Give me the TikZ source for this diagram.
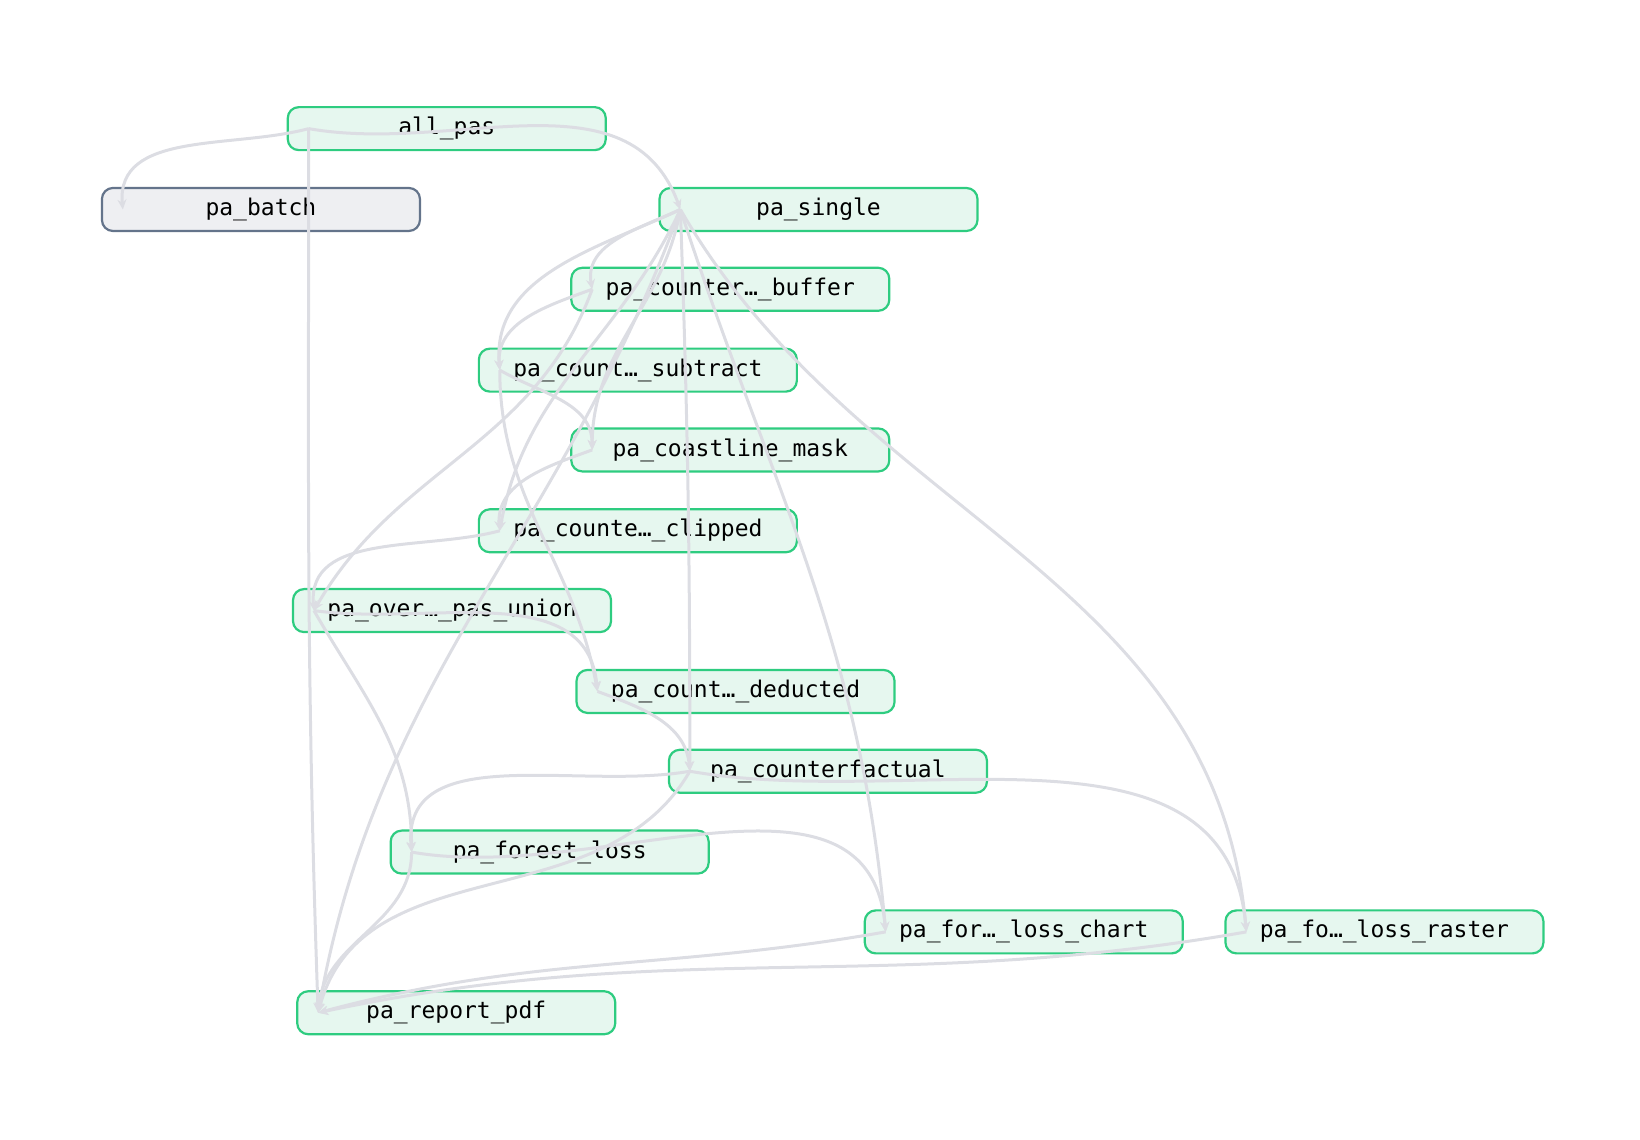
\documentclass[tikz,border=0pt]{standalone}
\usepackage{fontspec}
\setmonofont{DejaVu Sans Mono}
\usetikzlibrary{arrows.meta}
\definecolor{ng}{HTML}{2ECC80}
\definecolor{nf}{HTML}{E6F7EF}
\definecolor{gb}{HTML}{64748B}
\definecolor{gf}{HTML}{EEEFF2}
\definecolor{ec}{HTML}{DCDDE3}
\begin{document}
\begin{tikzpicture}[x=1.05pt,y=-1.05pt,
 n/.style={draw=ng,line width=2.2pt,fill=nf,rounded corners=11pt,minimum width=318pt,minimum height=43pt,inner sep=0pt,font=\fontsize{23}{26}\selectfont\ttfamily},
 g/.style={n,draw=gb,fill=gf},
 e/.style={draw=ec,line width=3pt,-{Stealth[length=10pt,width=9pt]}}]
\useasboundingbox (0,0) rectangle (1561.9,1085.7);
\node[n] (all) at (425.5,122.5) {all\_pas};
\node[g] (batch) at (248.5,199.5) {pa\_batch};
\node[n] (single) at (779.5,199.5) {pa\_single};
\node[n] (buf) at (695.5,275.5) {pa\_counter…\_buffer};
\node[n] (sub) at (607.5,352.5) {pa\_count…\_subtract};
\node[n] (coast) at (695.5,428.5) {pa\_coastline\_mask};
\node[n] (clip) at (607.5,505.5) {pa\_counte…\_clipped};
\node[n] (union) at (430.5,581.5) {pa\_over…\_pas\_union};
\node[n] (ded) at (700.5,658.5) {pa\_count…\_deducted};
\node[n] (cf) at (788.5,734.5) {pa\_counterfactual};
\node[n] (fl) at (523.5,811.5) {pa\_forest\_loss};
\node[n] (chart) at (975,887.5) {pa\_for…\_loss\_chart};
\node[n] (raster) at (1318.5,887.5) {pa\_fo…\_loss\_raster};
\node[n] (rep) at (434.5,964.5) {pa\_report\_pdf};
\foreach \a in {all,batch,single,buf,sub,coast,clip,union,ded,cf,fl,chart,raster,rep}
  \coordinate (\a-p) at ([xshift=22pt]\a.west);
\draw[e] (all-p) to[out=195,in=95] (batch-p);
\draw[e] (all-p) to[out=-10,in=110] (single-p);
\draw[e] (all-p) to[out=-90,in=92] (rep-p);
\draw[e] (single-p) to[out=205,in=100] (buf-p);
\draw[e] (single-p) to[out=205,in=95] (sub-p);
\draw[e] (single-p) to[out=-100,in=90] (coast-p);
\draw[e] (single-p) to[out=-115,in=80] (clip-p);
\draw[e] (single-p) to[out=-88,in=90] (cf-p);
\draw[e] (single-p) to[out=-72,in=95] (chart-p);
\draw[e] (single-p) to[out=-60,in=95] (raster-p);
\draw[e] (single-p) to[out=-110,in=80] (rep-p);
\draw[e] (buf-p) to[out=200,in=95] (sub-p);
\draw[e] (buf-p) to[out=-110,in=60] (union-p);
\draw[e] (sub-p) to[out=-30,in=90] (coast-p);
\draw[e] (sub-p) to[out=-90,in=100] (ded-p);
\draw[e] (coast-p) to[out=200,in=95] (clip-p);
\draw[e] (clip-p) to[out=195,in=95] (union-p);
\draw[e] (union-p) to[out=-8,in=95] (ded-p);
\draw[e] (union-p) to[out=-60,in=90] (fl-p);
\draw[e] (ded-p) to[out=-20,in=95] (cf-p);
\draw[e] (cf-p) to[out=190,in=95] (fl-p);
\draw[e] (cf-p) to[out=-10,in=95] (raster-p);
\draw[e] (cf-p) to[out=-120,in=75] (rep-p);
\draw[e] (fl-p) to[out=-10,in=95] (chart-p);
\draw[e] (fl-p) to[out=-90,in=85] (rep-p);
\draw[e] (chart-p) to[out=190,in=15] (rep-p);
\draw[e] (raster-p) to[out=190,in=12] (rep-p);
\end{tikzpicture}
\end{document}
